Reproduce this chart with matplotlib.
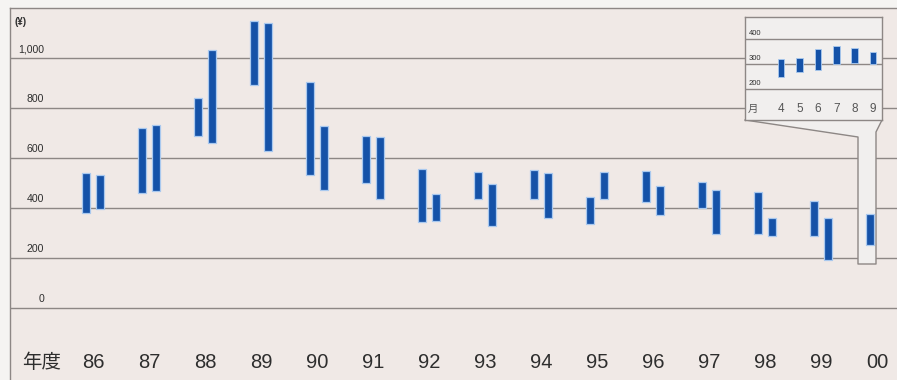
import matplotlib
matplotlib.use("Agg")
import matplotlib.pyplot as plt
from matplotlib.patches import Polygon
from matplotlib.lines import Line2D

# Fiscal-year share price ranges (yen), first half (Apr-Sep) and second half (Oct-Mar)
years = ["86", "87", "88", "89", "90", "91", "92", "93", "94", "95", "96", "97", "98", "99", "00"]
h1_high = [540, 722, 841, 1150, 907, 689, 557, 545, 553, 445, 549, 506, 466, 429, 376]
h1_low = [380, 460, 689, 893, 533, 500, 344, 437, 436, 336, 424, 401, 296, 290, 253]
h2_high = [534, 734, 1032, 1141, 729, 684, 456, 498, 542, 545, 489, 472, 360, 360]
h2_low = [396, 470, 662, 628, 473, 436, 349, 329, 360, 437, 372, 296, 288, 193]

# Monthly ranges for fiscal 2000
months = ["4", "5", "6", "7", "8", "9"]
m_high = [322, 324, 360, 373, 365, 348]
m_low = [248, 270, 277, 300, 304, 300]

y_ticks = [0, 200, 400, 600, 800, 1000]
y_tick_labels = ["0", "200", "400", "600", "800", "1,000"]
inset_ticks = [200, 300, 400]

BG = "#f0e9e6"
OUTER = "#f5f4f2"
INSET_BG = "#f1efee"
GRID = "#8d8785"
BAR = "#1552a8"
HALO = "#a9c9ef"
TEXT = "#2e2e2e"

W, H = 897, 380
fig = plt.figure(figsize=(W / 100, H / 100), dpi=100, facecolor=OUTER)

def fig_box(x0, y0, x1, y1):
    """Pixel box (top-left origin) -> figure-fraction rect."""
    return [x0 / W, 1 - y1 / H, (x1 - x0) / W, (y1 - y0) / H]

def fig_pt(x, y):
    return (x / W, 1 - y / H)

ax = fig.add_axes(fig_box(10, 7.7, W, H))
ax.set_facecolor(BG)
ax.set_xlim(-1.482, 14.357)
ax.set_ylim(-286.8, 1202.4)
for side in ("right", "bottom"):
    ax.spines[side].set_visible(False)
for side in ("left", "top"):
    ax.spines[side].set_color(GRID)
    ax.spines[side].set_linewidth(1.0)
ax.set_xticks([])
ax.set_yticks([])

for v in y_ticks:
    ax.axhline(v, color=GRID, lw=1.0, zorder=1)

label_font = ["Liberation Sans", "DejaVu Sans"]
for v, t in zip(y_ticks, y_tick_labels):
    ax.text(-0.875, v + 36, t, ha="right", va="center", fontsize=7.6,
            color=TEXT, family=label_font)
ax.text(-1.40, 1145, "(¥)", ha="left", va="center", fontsize=7,
        fontweight="bold", color=TEXT, family=label_font)

off, bw = 0.125, 0.14
idx = list(range(len(years)))
x1 = [i - off for i in idx]
x2 = [i + off for i in idx[:len(h2_high)]]
ax.bar(x1, [h - l for h, l in zip(h1_high, h1_low)], bottom=h1_low, width=bw,
       color=BAR, edgecolor=HALO, linewidth=0.9, zorder=4)
ax.bar(x2, [h - l for h, l in zip(h2_high, h2_low)], bottom=h2_low, width=bw,
       color=BAR, edgecolor=HALO, linewidth=0.9, zorder=4)

for i, y in zip(idx, years):
    ax.text(i, -215, y, ha="center", va="center", fontsize=14.5,
            color=TEXT, family=label_font)
ax.text(-0.91, -215, "年度", ha="center", va="center", fontsize=14,
        color=TEXT, family=["Noto Sans CJK JP", "DejaVu Sans"])

# Callout tail joining the inset to the fiscal 2000 bar
tail = [(745, 120), (858, 137), (858, 264), (876, 264), (876, 132), (882, 120)]
tail_fig = [fig_pt(x, y) for x, y in tail]
ax.add_patch(Polygon(tail_fig, closed=True, transform=fig.transFigure,
                     facecolor=INSET_BG, edgecolor="none", zorder=2, clip_on=False))
ax.add_line(Line2D([p[0] for p in tail_fig], [p[1] for p in tail_fig],
                   transform=fig.transFigure, color=GRID, lw=1.0, zorder=3,
                   clip_on=False))

# Inset: monthly ranges
ax2 = fig.add_axes(fig_box(745, 17, 882, 120))
ax2.set_facecolor(INSET_BG)
ax2.set_xlim(2.04, 9.49)
ax2.set_ylim(77, 489)
for s in ax2.spines.values():
    s.set_color(GRID)
    s.set_linewidth(1.0)
ax2.set_xticks([])
ax2.set_yticks([])
for v in inset_ticks:
    ax2.axhline(v, color=GRID, lw=1.0, zorder=1)
    ax2.text(2.26, v + 24, str(v), ha="left", va="center", fontsize=5.5,
             color=TEXT, family=label_font)
mx = [int(m) for m in months]
ax2.bar(mx, [h - l for h, l in zip(m_high, m_low)], bottom=m_low, width=0.36,
        color=BAR, edgecolor=HALO, linewidth=0.6, zorder=3)
for m, t in zip(mx, months):
    ax2.text(m, 121, t, ha="center", va="center", fontsize=8.5,
             color="#555555", family=label_font)
ax2.text(2.48, 121, "月", ha="center", va="center", fontsize=7.5,
         color="#555555", family=["Noto Sans CJK JP", "DejaVu Sans"])

fig.savefig("out.png", dpi=100, facecolor=OUTER)
